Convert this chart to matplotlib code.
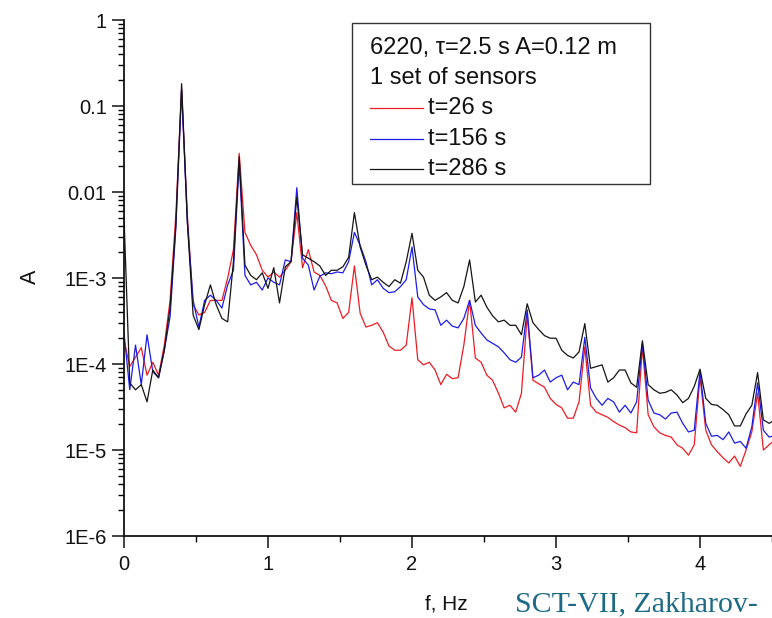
import numpy as np
import matplotlib.pyplot as plt
from matplotlib.ticker import FixedLocator, FixedFormatter, LogLocator, NullFormatter, MultipleLocator
from matplotlib.patches import Rectangle
from matplotlib.lines import Line2D

plt.rcParams['font.family'] = ['Liberation Sans', 'DejaVu Sans']

# frequency grid, Hz (step 0.04)
freq = [round(0.04 * i, 2) for i in range(114)]

# log10 of amplitude
red_log = [
    -3.72, -4.03, -3.92, -3.81, -4.13, -3.98, -4.13, -3.78, -3.26, -2.27,
    -0.81, -2.27, -3.31, -3.43, -3.40, -3.26, -3.26, -3.26, -3.00, -2.67,
    -1.55, -2.47, -2.62, -2.73, -2.91, -2.99, -2.93, -2.99, -2.91, -2.81,
    -2.24, -2.88, -2.67, -2.93, -2.97, -3.09, -3.26, -3.29, -3.47, -3.40,
    -2.86, -3.41, -3.57, -3.55, -3.52, -3.63, -3.79, -3.84, -3.84, -3.78,
    -3.23, -3.95, -4.01, -3.98, -4.07, -4.24, -4.12, -4.17, -4.16, -3.78,
    -3.26, -3.93, -3.98, -4.13, -4.19, -4.34, -4.51, -4.48, -4.56, -4.34,
    -3.43, -4.19, -4.23, -4.27, -4.40, -4.47, -4.51, -4.63, -4.63, -4.44,
    -3.80, -4.48, -4.56, -4.59, -4.62, -4.67, -4.71, -4.74, -4.79, -4.80,
    -3.80, -4.59, -4.73, -4.80, -4.83, -4.85, -4.94, -4.98, -5.06, -4.94,
    -4.15, -4.77, -4.94, -5.02, -5.09, -5.15, -5.07, -5.19, -5.00, -4.79,
    -4.34, -5.00, -4.94, -4.88,
]
blue_log = [
    -3.64, -4.30, -3.78, -4.24, -3.66, -4.09, -4.16, -3.84, -3.45, -2.42,
    -0.81, -2.35, -3.26, -3.57, -3.26, -3.20, -3.26, -3.35, -3.08, -2.91,
    -1.65, -2.97, -3.08, -3.05, -3.14, -3.00, -3.05, -3.08, -2.79, -2.81,
    -1.95, -2.77, -2.85, -3.14, -2.98, -2.94, -2.95, -2.93, -2.94, -2.81,
    -2.47, -2.62, -2.81, -3.08, -3.02, -3.12, -3.17, -3.16, -3.10, -3.02,
    -2.64, -3.22, -3.31, -3.36, -3.37, -3.55, -3.49, -3.56, -3.58, -3.47,
    -3.26, -3.55, -3.64, -3.72, -3.76, -3.80, -3.87, -3.95, -3.98, -3.92,
    -3.37, -4.16, -4.13, -4.07, -4.21, -4.16, -4.13, -4.30, -4.21, -4.24,
    -3.69, -4.28, -4.40, -4.48, -4.40, -4.44, -4.56, -4.48, -4.57, -4.44,
    -3.76, -4.42, -4.57, -4.59, -4.64, -4.57, -4.56, -4.69, -4.79, -4.77,
    -4.08, -4.69, -4.84, -4.83, -4.88, -4.79, -4.92, -4.90, -4.98, -4.73,
    -4.22, -4.77, -4.85, -4.83,
]
black_log = [
    -2.29, -4.22, -4.30, -4.24, -4.44, -4.07, -4.16, -3.84, -3.34, -2.38,
    -0.74, -2.35, -3.43, -3.60, -3.31, -3.08, -3.31, -3.47, -3.51, -2.81,
    -1.59, -2.85, -2.97, -3.02, -2.94, -3.12, -2.88, -3.29, -2.87, -2.81,
    -2.06, -2.73, -2.77, -2.81, -2.86, -2.97, -2.91, -2.91, -2.87, -2.76,
    -2.24, -2.64, -2.85, -3.02, -2.99, -3.05, -3.10, -3.02, -3.06, -2.81,
    -2.48, -2.91, -2.99, -3.20, -3.26, -3.22, -3.17, -3.26, -3.29, -3.10,
    -2.79, -3.28, -3.20, -3.34, -3.44, -3.51, -3.49, -3.55, -3.55, -3.66,
    -3.30, -3.52, -3.60, -3.67, -3.70, -3.70, -3.84, -3.90, -3.93, -3.86,
    -3.53, -4.05, -4.03, -4.01, -4.21, -4.16, -4.07, -4.07, -4.22, -4.27,
    -3.73, -4.24, -4.30, -4.34, -4.33, -4.30, -4.36, -4.45, -4.40, -4.26,
    -4.06, -4.40, -4.47, -4.48, -4.53, -4.59, -4.72, -4.72, -4.58, -4.48,
    -4.10, -4.65, -4.69, -4.65,
]

labels = ['t=26 s', 't=156 s', 't=286 s']
colors = ['#ec1c24', '#1c1ce6', '#141414']
yticks = [1, 0.1, 0.01, 1e-3, 1e-4, 1e-5, 1e-6]
yticklabels = ['1', '0.1', '0.01', '1E-3', '1E-4', '1E-5', '1E-6']

W, H = 772, 618


def fx(px):
    return px / W


def fy(py):
    return 1 - py / H


fig = plt.figure(figsize=(W / 100, H / 100), dpi=100)
ax = fig.add_axes([fx(124), fy(536), fx(772) - fx(124), fy(20) - fy(536)])

lines = []
for vals, c, lab in zip([red_log, blue_log, black_log], colors, labels):
    ln, = ax.plot(freq, 10 ** np.array(vals), color=c, lw=0.9, label=lab)
    lines.append(ln)

ax.set_yscale('log')
ax.set_ylim(1e-6, 1)
ax.set_xlim(0, 4.5)

ax.yaxis.set_major_locator(FixedLocator(yticks))
ax.yaxis.set_major_formatter(FixedFormatter(yticklabels))
ax.yaxis.set_minor_locator(LogLocator(base=10, subs=np.arange(2, 10)))
ax.yaxis.set_minor_formatter(NullFormatter())
ax.xaxis.set_major_locator(FixedLocator([0, 1, 2, 3, 4]))
ax.xaxis.set_major_formatter(FixedFormatter(['0', '1', '2', '3', '4']))
ax.xaxis.set_minor_locator(MultipleLocator(0.5))

ax.tick_params(which='major', direction='out', length=8.5, width=1.1, labelsize=14.5, colors='#111111')
ax.tick_params(which='minor', direction='out', length=4.5, width=1.0)
ax.tick_params(axis='y', which='major', pad=4)
ax.tick_params(axis='x', which='major', pad=5)

for s in ['top', 'right']:
    ax.spines[s].set_visible(False)
for s in ['left', 'bottom']:
    ax.spines[s].set_linewidth(1.3)
    ax.spines[s].set_color('#111111')

fig.text(fx(446), fy(604), 'f, Hz', ha='center', va='center', fontsize=15, color='#111111')
fig.text(fx(30), fy(277), 'A', ha='center', va='center', rotation=90, fontsize=15.5, color='#111111')

# legend box drawn by hand
fig.patches.append(Rectangle((fx(352), fy(184)), fx(650) - fx(352), fy(23) - fy(184),
                             transform=fig.transFigure, fill=False, lw=1.0, ec='#333333'))
fig.text(fx(370), fy(48), '6220, \u03c4=2.5 s A=0.12 m', ha='left', va='center', fontsize=17, color='#111111')
fig.text(fx(370), fy(78), '1 set of sensors', ha='left', va='center', fontsize=17, color='#111111')
for k, (ln, ly) in enumerate(zip(lines, [108, 139, 169])):
    fig.lines.append(Line2D([fx(370), fx(423)], [fy(ly), fy(ly)], transform=fig.transFigure,
                            color=ln.get_color(), lw=0.9))
    fig.text(fx(428), fy(ly), ln.get_label(), ha='left', va='center', fontsize=17, color='#111111')

fig.text(fx(515), fy(611), 'SCT-VII, Zakharov-', ha='left', va='baseline',
         fontsize=21.5, family='Liberation Serif', color='#1d6a85')

fig.savefig('out.png', dpi=100)
